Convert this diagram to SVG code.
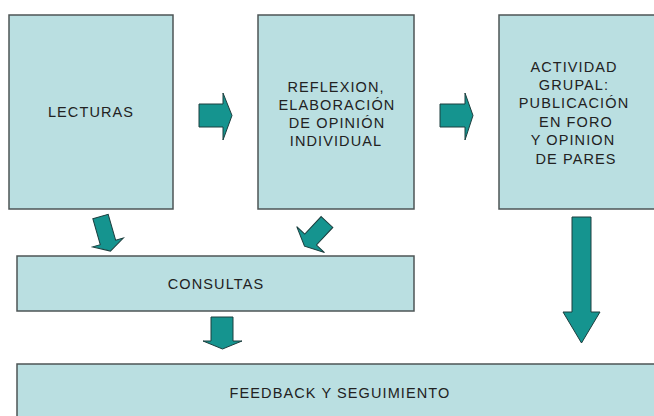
<svg xmlns="http://www.w3.org/2000/svg" width="654" height="416" viewBox="0 0 654 416">
<style>
.box{fill:#badfe1;stroke:#4d5556;stroke-width:1.5}
.arr{fill:#15948f;stroke:#1d3e3e;stroke-width:1;stroke-linejoin:miter}
.t{font-family:"Liberation Sans",Arial,sans-serif;font-size:14.5px;fill:#222222;text-anchor:middle;letter-spacing:1.1px}
</style>
<rect width="654" height="416" fill="#ffffff"/>
<g id="lecturas">
<rect class="box" x="9" y="15" width="164" height="194"/>
<text class="t" x="91" y="117">LECTURAS</text>
</g>
<g id="reflexion">
<rect class="box" x="258" y="15" width="156" height="194"/>
<text class="t" x="336" y="92">REFLEXION,</text>
<text class="t" x="337" y="110">ELABORACIÓN</text>
<text class="t" x="337" y="128">DE OPINIÓN</text>
<text class="t" x="336" y="146">INDIVIDUAL</text>
</g>
<g id="actividad">
<rect class="box" x="499" y="15" width="170" height="194"/>
<text class="t" x="574" y="72">ACTIVIDAD</text>
<text class="t" x="574" y="90">GRUPAL:</text>
<text class="t" x="574" y="108">PUBLICACIÓN</text>
<text class="t" x="576" y="127">EN FORO</text>
<text class="t" x="573" y="145">Y OPINION</text>
<text class="t" x="576" y="164">DE PARES</text>
</g>
<g id="consultas">
<rect class="box" x="17" y="256" width="397" height="55"/>
<text class="t" x="216" y="289">CONSULTAS</text>
</g>
<g id="feedback">
<rect class="box" x="17" y="364" width="660" height="70"/>
<text class="t" x="340" y="398">FEEDBACK Y SEGUIMIENTO</text>
</g>
<g id="connectors">
<path class="arr" d="M199,104 H223 V93 L232,115.5 L223,140 V127 H199 Z"/>
<path class="arr" d="M440,104 H465 V93 L473,115.5 L465,140 V127 H440 Z"/>
<path class="arr" d="M-8,0 H8 V27 H16 L0,36 L-16,27 H-8 Z" transform="translate(100.5,216.5) rotate(-16)"/>
<path class="arr" d="M-8,0 H8 V24 H19 L0,33 L-19,24 H-8 Z" transform="translate(327,222) rotate(43)"/>
<path class="arr" d="M211,317 H233 V341 H242 L222.5,349 L203,341 H211 Z"/>
<path class="arr" d="M572,217 H591 V312 H600 L581.5,343 L563,312 H572 Z"/>
</g>
</svg>
